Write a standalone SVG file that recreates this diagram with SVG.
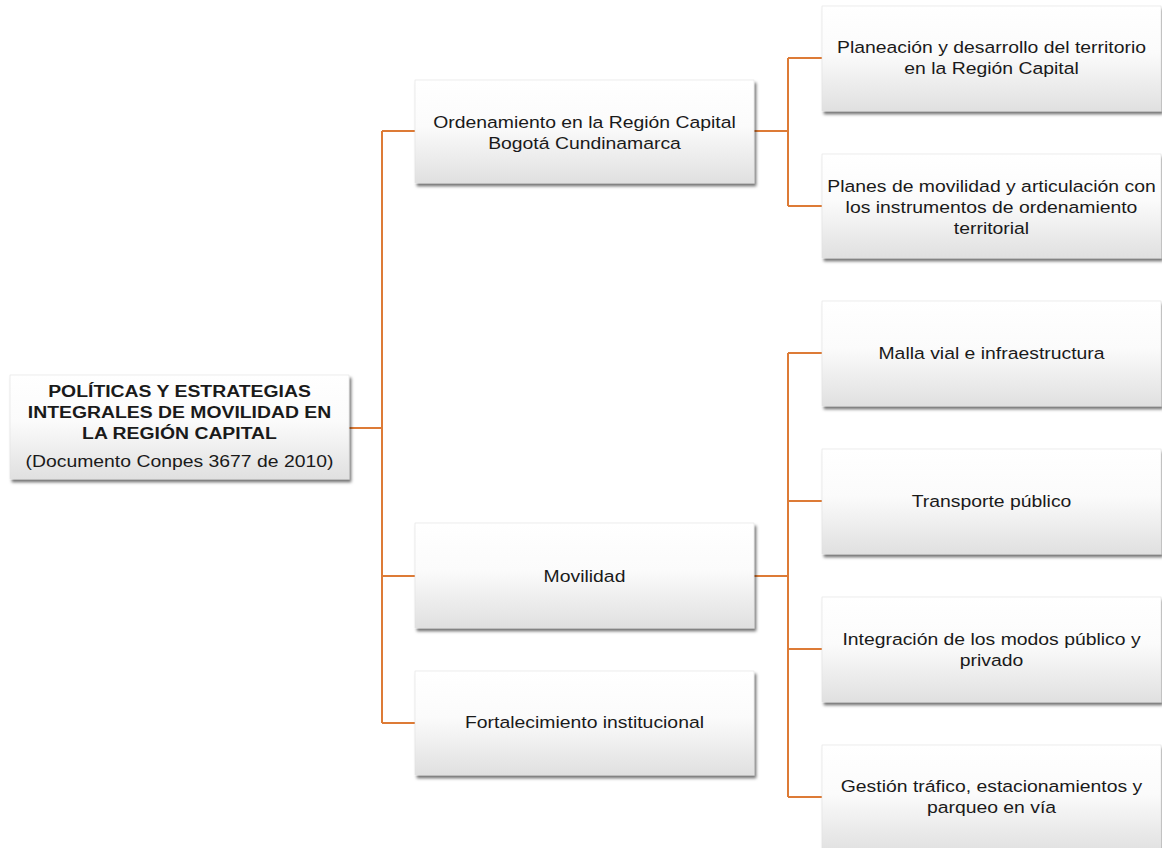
<svg xmlns="http://www.w3.org/2000/svg" width="1162" height="848" viewBox="0 0 1162 848">
  <defs>
    <linearGradient id="boxFill" x1="0" y1="0" x2="0" y2="1">
      <stop offset="0" stop-color="#ffffff"/>
      <stop offset="0.45" stop-color="#fbfbfb"/>
      <stop offset="1" stop-color="#e0e0e0"/>
    </linearGradient>
    <filter id="shadow" x="-5%" y="-10%" width="112%" height="130%">
      <feDropShadow dx="2" dy="3" stdDeviation="1.8" flood-color="#000" flood-opacity="0.55"/>
    </filter>
    <style>
      .box { fill: url(#boxFill); stroke: #e2e2e2; stroke-width: 0.6; filter: url(#shadow); }
      .lbl { font-family: "Liberation Sans", Arial, sans-serif; font-size: 17px; fill: #1a1a1a; text-anchor: middle; }
      .bold { font-weight: bold; }
      .conn { fill: none; stroke: #DD7B36; stroke-width: 2; }
    </style>
  </defs>

  <rect width="1162" height="848" fill="#ffffff"/>

  <!-- connectors -->
  <g id="connectors">
    <path class="conn" d="M349 428 H382 M382 131 V723 M382 131 H415 M382 576 H415 M382 723 H415"/>
    <path class="conn" d="M754 131 H788 M788 58 V206 M788 58 H822 M788 206 H822"/>
    <path class="conn" d="M754 576 H788 M788 353 V797 M788 353 H822 M788 501 H822 M788 649 H822 M788 797 H822"/>
  </g>

  <!-- root -->
  <g id="root">
    <rect class="box" x="10" y="375" width="339" height="104"/>
    <g transform="translate(179.5 0) scale(1.14 1)">
      <text class="lbl bold" x="0" y="397">POLÍTICAS Y ESTRATEGIAS</text>
      <text class="lbl bold" x="0" y="418">INTEGRALES DE MOVILIDAD EN</text>
      <text class="lbl bold" x="0" y="439">LA REGIÓN CAPITAL</text>
      <text class="lbl" x="0" y="467">(Documento Conpes 3677 de 2010)</text>
    </g>
  </g>

  <!-- second level -->
  <g id="ordenamiento">
    <rect class="box" x="415" y="80" width="339" height="103"/>
    <g transform="translate(584.5 0) scale(1.14 1)">
      <text class="lbl" x="0" y="128">Ordenamiento en la Región Capital</text>
      <text class="lbl" x="0" y="149">Bogotá Cundinamarca</text>
    </g>
  </g>
  <g id="movilidad">
    <rect class="box" x="415" y="523" width="339" height="105"/>
    <g transform="translate(584.5 0) scale(1.14 1)">
      <text class="lbl" x="0" y="582">Movilidad</text>
    </g>
  </g>
  <g id="fortalecimiento">
    <rect class="box" x="415" y="671" width="339" height="104"/>
    <g transform="translate(584.5 0) scale(1.14 1)">
      <text class="lbl" x="0" y="728">Fortalecimiento institucional</text>
    </g>
  </g>

  <!-- third level -->
  <g id="planeacion">
    <rect class="box" x="822" y="6" width="339" height="105"/>
    <g transform="translate(991.5 0) scale(1.14 1)">
      <text class="lbl" x="0" y="53">Planeación y desarrollo del territorio</text>
      <text class="lbl" x="0" y="74">en la Región Capital</text>
    </g>
  </g>
  <g id="planes">
    <rect class="box" x="822" y="154" width="339" height="104"/>
    <g transform="translate(991.5 0) scale(1.14 1)">
      <text class="lbl" x="0" y="192">Planes de movilidad y articulación con</text>
      <text class="lbl" x="0" y="213">los instrumentos de ordenamiento</text>
      <text class="lbl" x="0" y="234">territorial</text>
    </g>
  </g>
  <g id="malla">
    <rect class="box" x="822" y="301" width="339" height="105"/>
    <g transform="translate(991.5 0) scale(1.14 1)">
      <text class="lbl" x="0" y="359">Malla vial e infraestructura</text>
    </g>
  </g>
  <g id="transporte">
    <rect class="box" x="822" y="449" width="339" height="105"/>
    <g transform="translate(991.5 0) scale(1.14 1)">
      <text class="lbl" x="0" y="507">Transporte público</text>
    </g>
  </g>
  <g id="integracion">
    <rect class="box" x="822" y="597" width="339" height="105"/>
    <g transform="translate(991.5 0) scale(1.14 1)">
      <text class="lbl" x="0" y="645">Integración de los modos público y</text>
      <text class="lbl" x="0" y="666">privado</text>
    </g>
  </g>
  <g id="gestion">
    <rect class="box" x="822" y="745" width="339" height="108"/>
    <g transform="translate(991.5 0) scale(1.14 1)">
      <text class="lbl" x="0" y="792">Gestión tráfico, estacionamientos y</text>
      <text class="lbl" x="0" y="813">parqueo en vía</text>
    </g>
  </g>
</svg>
